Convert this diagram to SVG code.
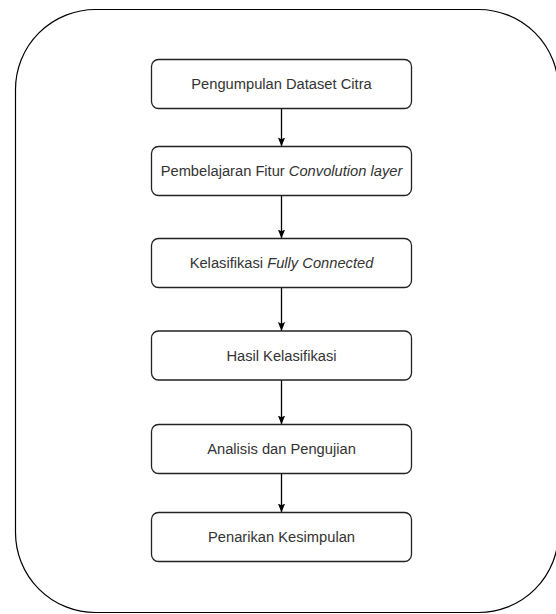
<svg xmlns="http://www.w3.org/2000/svg" width="556" height="614" viewBox="0 0 556 614">
  <style>
    .frame { fill: #ffffff; stroke: #000000; stroke-width: 1.2; }
    .box { fill: #ffffff; stroke: #222222; stroke-width: 1.3; }
    .lbl { font-family: "Liberation Sans", Arial, sans-serif; font-size: 14.7px; fill: #333333; text-anchor: middle; }
    .edge { stroke: #000000; stroke-width: 1.3; fill: none; marker-end: url(#arrow); }
    .it { font-style: italic; }
  </style>
  <defs>
    <marker id="arrow" viewBox="0 0 10 10" refX="10" refY="5" markerWidth="9" markerHeight="10" markerUnits="userSpaceOnUse" orient="auto">
      <path d="M0,1 L10,5 L0,9 L2,5 z" fill="#000000"/>
    </marker>
  </defs>
  <rect width="556" height="614" fill="#ffffff"/>
  <g id="frame">
    <rect class="frame" x="15.5" y="9.5" width="543" height="603" rx="80" ry="80"/>
  </g>
  <g id="connectors">
    <line class="edge" x1="281.5" y1="108.5" x2="281.5" y2="146.5"/>
    <line class="edge" x1="281.5" y1="195.5" x2="281.5" y2="238.5"/>
    <line class="edge" x1="281.5" y1="287.5" x2="281.5" y2="331"/>
    <line class="edge" x1="281.5" y1="380" x2="281.5" y2="424.5"/>
    <line class="edge" x1="281.5" y1="473.5" x2="281.5" y2="512.5"/>
  </g>
  <g id="node1">
    <rect class="box" x="151.5" y="59.5" width="260" height="49" rx="7"/>
    <text class="lbl" x="281.5" y="89">Pengumpulan Dataset Citra</text>
  </g>
  <g id="node2">
    <rect class="box" x="151.5" y="146.5" width="260" height="49" rx="7"/>
    <text class="lbl" x="281.5" y="176">Pembelajaran Fitur <tspan class="it">Convolution layer</tspan></text>
  </g>
  <g id="node3">
    <rect class="box" x="151.5" y="238.5" width="260" height="49" rx="7"/>
    <text class="lbl" x="281.5" y="268">Kelasifikasi <tspan class="it">Fully Connected</tspan></text>
  </g>
  <g id="node4">
    <rect class="box" x="151.5" y="331" width="260" height="49" rx="7"/>
    <text class="lbl" x="281.5" y="360.5">Hasil Kelasifikasi</text>
  </g>
  <g id="node5">
    <rect class="box" x="151.5" y="424.5" width="260" height="49" rx="7"/>
    <text class="lbl" x="281.5" y="454">Analisis dan Pengujian</text>
  </g>
  <g id="node6">
    <rect class="box" x="151.5" y="512.5" width="260" height="49" rx="7"/>
    <text class="lbl" x="281.5" y="542">Penarikan Kesimpulan</text>
  </g>
</svg>
